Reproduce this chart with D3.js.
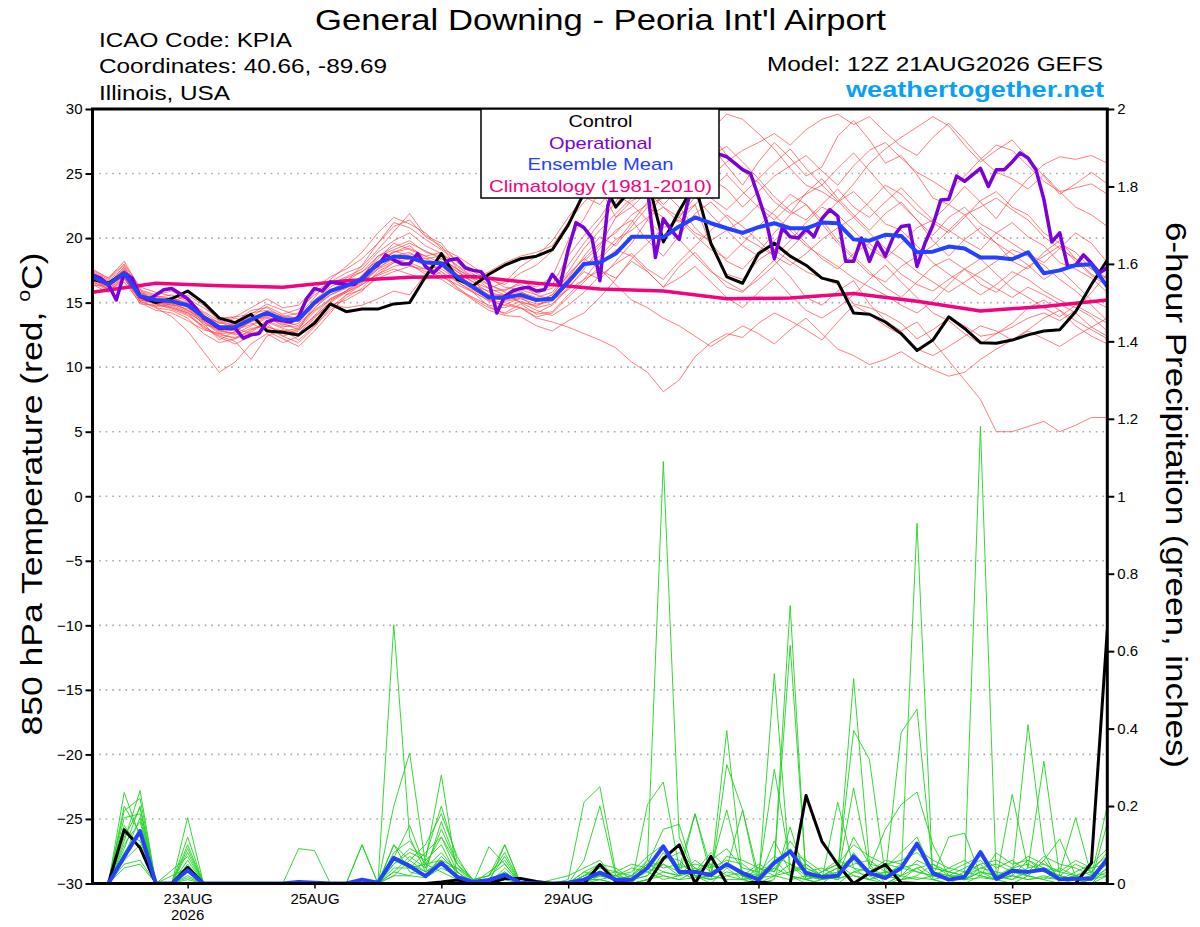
<!DOCTYPE html>
<html>
<head>
<meta charset="utf-8">
<script src="https://cdn.jsdelivr.net/npm/d3@7"></script>
<style>
  body { margin: 0; background: #fff; }
  svg { display: block; font-family: "Liberation Sans", Arial, Helvetica, sans-serif; }
</style>
</head>
<body>
<svg id="chart" width="1200" height="927"></svg>
<script>
// GEFS run 12Z 21AUG2026, 6-hourly out to 384 h (operational is 3-hourly)
const runStart = new Date(Date.UTC(2026, 7, 21, 12));
const hours6 = d3.range(0, 385, 6);
const hours3 = d3.range(0, 385, 3);
const precipHours = d3.range(6, 385, 6);   // 6-h totals ending at these hours
const climHours = d3.range(0, 385, 24);

const tempTicks = [-30, -25, -20, -15, -10, -5, 0, 5, 10, 15, 20, 25, 30];
const gridTemps = [-25, -20, -15, -10, -5, 0, 5, 10, 15, 20, 25];
const precipTicks = [0, 0.2, 0.4, 0.6, 0.8, 1, 1.2, 1.4, 1.6, 1.8, 2];
const dateTicks = [
  new Date(Date.UTC(2026, 7, 23)), new Date(Date.UTC(2026, 7, 25)),
  new Date(Date.UTC(2026, 7, 27)), new Date(Date.UTC(2026, 7, 29)),
  new Date(Date.UTC(2026, 8, 1)), new Date(Date.UTC(2026, 8, 3)),
  new Date(Date.UTC(2026, 8, 5))
];

// 850 hPa temperature, deg C
const controlTemp = [16.8, 16.5, 17.3, 15.5, 15.0, 15.3, 15.9, 15.0, 13.8, 13.45, 14.1, 12.8, 12.7, 12.5, 13.4, 14.9,
  14.3, 14.5, 14.5, 14.9, 15.0, 17.0, 18.8, 16.8, 16.3, 17.2, 17.9, 18.4, 18.6, 19.1, 21.0,
  23.5, 24.8, 22.4, 23.8, 24.6, 19.7, 22.1, 24.2, 19.6, 17.0, 16.5, 18.8, 19.6, 18.6, 17.9, 16.9, 16.6,
  14.2, 14.1, 13.5, 12.6, 11.3, 12.1, 13.9, 13.0, 11.9, 11.85, 12.1, 12.5, 12.8, 12.9, 14.3, 16.4, 18.3];

const operTemp = [17.15, 16.9, 16.4, 15.2, 17.3, 16.9, 15.5, 15.2, 15.6, 16.0, 16.1, 15.7, 15.3, 14.6, 13.8, 13.4,
  13.0, 13.0, 13.0, 12.25, 12.5, 12.6, 13.5, 13.7, 13.6, 13.5, 13.9, 15.3, 16.1, 15.9, 16.6, 16.5,
  16.4, 16.4, 16.9, 17.5, 17.9, 18.7, 18.3, 18.0, 18.0, 18.8, 17.8, 17.3, 17.9, 18.3, 18.4, 17.7,
  17.5, 17.4, 16.6, 14.2, 15.5, 15.9, 16.1, 16.2, 15.9, 16.0, 17.2, 16.4, 19.1, 21.2, 20.8, 20.0,
  16.7, 22.5, 24.5, 25.5, 24.8, 25.5, 23.8, 18.5, 21.5, 20.6, 19.9, 22.6, 24.8, 25.6, 26.0, 26.5,
  26.3, 25.8, 25.3, 25.0, 23.2, 21.3, 18.4, 20.8, 20.1, 20.0, 20.7, 20.1, 21.5, 22.2, 21.7, 18.2,
  18.2, 20.0, 18.2, 19.7, 18.6, 20.1, 20.9, 21.0, 17.8, 19.6, 21.0, 22.95, 23.0, 24.8, 24.4, 24.9,
  25.4, 24.0, 25.3, 25.3, 25.9, 26.6, 26.2, 25.3, 23.0, 19.7, 20.4, 17.8, 17.9, 18.7, 18.05, 17.3, 17.7];

const meanTemp = [17.0, 16.4, 17.3, 15.5, 15.2, 15.1, 14.8, 13.9, 13.1, 13.1, 13.7, 14.2, 13.7, 13.7, 15.0, 15.9,
  16.3, 16.8, 18.05, 18.57, 18.5, 18.1, 18.05, 17.0, 16.2, 15.4, 15.4, 15.6, 15.2, 15.3, 16.6,
  18.0, 18.1, 18.8, 20.1, 20.1, 20.06, 20.9, 21.6, 21.15, 20.76, 20.4, 20.84, 21.15, 20.76, 20.76, 21.2, 21.15,
  19.9, 19.8, 20.25, 20.17, 18.9, 18.95, 19.34, 19.2, 18.5, 18.49, 18.36, 18.9, 17.28, 17.5, 17.9, 17.97, 16.24];

const climTemp = [15.8, 16.5, 16.3, 16.2, 16.7, 16.97, 17.03, 16.5, 16.05, 15.9, 15.3, 15.35, 15.7, 15.1, 14.35, 14.7, 15.2];

const memberTemp = [
  [17.4, 16.8, 17.9, 16.0, 15.6, 15.9, 15.2, 14.1, 12.9, 13.5, 14.4, 14.6, 13.9, 14.2, 15.8, 16.6,
   17.3, 17.8, 19.1, 20.5, 21.9, 20.2, 19.6, 18.1, 17.2, 16.4, 15.9, 16.6, 16.2, 17.0, 19.8,
   21.5, 23.7, 22.4, 24.8, 26.9, 25.1, 27.8, 28.9, 27.2, 25.6, 24.1, 25.9, 27.4, 26.2, 24.8, 25.5, 27.9,
   29.1, 27.6, 25.8, 26.4, 24.9, 23.1, 22.6, 24.0, 22.8, 21.5, 23.2, 24.6, 25.7, 26.3, 26.1, 26.4, 25.8],
  [16.6, 16.1, 17.0, 15.1, 14.6, 14.4, 13.8, 12.6, 11.9, 12.2, 12.7, 13.5, 13.0, 12.6, 13.9, 14.8,
   15.2, 15.9, 17.1, 17.6, 17.2, 16.8, 17.4, 16.2, 15.3, 14.6, 14.2, 14.9, 14.1, 14.3, 15.6,
   16.8, 17.5, 16.9, 18.2, 17.4, 16.2, 17.8, 18.9, 17.5, 16.2, 15.8, 17.1, 18.3, 17.0, 15.4, 14.8, 15.9,
   16.7, 14.9, 13.6, 12.8, 13.5, 12.0, 10.5, 9.0, 7.5, 5.0, 5.0, 5.4, 5.8, 5.0, 5.5, 6.1, 6.1],
  [16.9, 16.0, 16.8, 15.3, 14.9, 14.5, 14.0, 13.2, 12.3, 11.8, 12.4, 13.1, 12.8, 13.0, 14.3, 15.2,
   15.8, 16.5, 17.6, 18.2, 17.9, 17.4, 17.0, 16.4, 15.8, 14.7, 14.1, 14.6, 13.8, 13.5, 13.1,
   12.6, 12.1, 11.5, 10.4, 9.6, 8.1, 9.0, 10.8, 11.9, 12.6, 12.3, 13.4, 14.2, 13.6, 12.9, 12.1, 13.5,
   14.8, 14.1, 13.2, 12.5, 11.4, 10.9, 11.6, 12.4, 13.2, 12.8, 12.1, 12.9, 13.8, 14.4, 13.6, 12.9, 12.2],
  [17.2, 16.5, 17.6, 15.8, 15.4, 15.6, 15.1, 14.3, 13.6, 13.9, 14.6, 15.3, 14.6, 14.8, 16.1, 17.0,
   17.6, 18.4, 19.6, 21.2, 20.8, 19.9, 19.1, 18.3, 17.4, 16.8, 16.4, 17.3, 17.9, 19.0, 20.9,
   23.6, 25.8, 27.4, 29.1, 29.8, 28.6, 27.9, 29.3, 28.1, 26.4, 25.2, 24.3, 22.8, 21.9, 23.5, 24.6, 23.1,
   21.8, 20.6, 21.9, 22.8, 21.4, 19.8, 18.6, 19.9, 20.8, 19.6, 18.2, 17.6, 18.9, 19.8, 18.4, 17.2, 16.5],
  [16.8, 16.3, 17.1, 15.4, 14.9, 15.0, 15.6, 14.8, 13.6, 13.2, 13.8, 12.9, 12.6, 12.4, 13.6, 14.9,
   14.6, 14.8, 15.3, 15.9, 15.6, 17.2, 18.4, 17.6, 16.8, 17.4, 18.1, 18.6, 18.9, 19.4, 21.2,
   22.8, 23.9, 21.6, 22.9, 23.4, 20.1, 21.8, 22.6, 19.4, 17.2, 16.8, 18.3, 19.1, 18.2, 17.4, 16.9, 16.4,
   14.9, 14.6, 14.1, 13.4, 12.2, 12.9, 13.8, 13.2, 12.4, 12.6, 13.1, 13.8, 14.2, 13.6, 14.4, 15.8, 17.2],
  [17.1, 16.6, 17.5, 15.7, 15.3, 15.2, 14.6, 13.5, 12.8, 12.6, 13.2, 13.8, 13.3, 13.6, 15.2, 16.2,
   16.9, 17.4, 18.6, 19.3, 19.8, 18.9, 18.6, 17.4, 16.6, 15.8, 15.5, 15.9, 15.1, 15.6, 17.2,
   18.4, 19.6, 20.4, 21.8, 22.6, 23.1, 24.2, 25.4, 24.8, 25.9, 26.8, 27.4, 28.1, 27.2, 28.4, 29.2, 29.6,
   28.8, 29.4, 28.2, 27.1, 26.4, 27.8, 28.9, 27.6, 26.2, 25.1, 24.6, 23.8, 24.9, 23.6, 22.4, 21.8, 20.9],
  [16.7, 16.2, 17.4, 15.2, 15.0, 14.8, 14.3, 13.4, 12.1, 12.8, 13.5, 14.0, 13.6, 13.2, 14.6, 15.6,
   16.2, 17.1, 18.4, 19.6, 19.1, 18.6, 18.9, 17.8, 16.9, 15.2, 15.0, 14.6, 14.2, 14.8, 16.1,
   17.6, 19.2, 20.6, 21.4, 19.8, 18.6, 20.2, 21.9, 22.8, 21.6, 20.1, 19.4, 18.6, 19.8, 21.2, 22.4, 21.8,
   20.6, 19.2, 18.4, 19.6, 20.8, 21.4, 22.6, 21.8, 20.4, 19.6, 18.8, 17.9, 16.8, 17.6, 16.4, 15.2, 14.6],
  [17.6, 16.9, 18.2, 16.1, 14.6, 13.9, 12.8, 11.2, 9.6, 10.4, 11.8, 12.6, 11.9, 12.4, 13.8, 15.1,
   15.9, 16.8, 17.9, 18.9, 19.4, 18.4, 17.9, 16.6, 15.9, 15.1, 14.8, 15.4, 14.6, 14.9, 16.2,
   17.4, 16.8, 18.2, 19.6, 21.4, 23.6, 22.4, 20.8, 19.6, 18.2, 17.6, 18.9, 20.4, 21.8, 22.6, 21.4, 19.8,
   18.6, 17.4, 16.2, 15.4, 16.6, 17.8, 18.4, 17.6, 16.4, 15.8, 16.9, 17.8, 18.6, 19.4, 18.2, 17.1, 16.3],
  [16.4, 15.8, 16.9, 14.9, 14.8, 14.6, 14.1, 13.0, 12.4, 12.0, 10.6, 12.4, 12.9, 12.1, 13.2, 14.4,
   15.4, 16.1, 17.4, 18.1, 18.4, 17.9, 17.2, 16.1, 15.2, 14.4, 14.0, 13.9, 13.2, 12.8, 13.6,
   14.2, 15.4, 16.8, 18.4, 19.6, 20.8, 21.4, 20.2, 19.1, 18.4, 19.6, 20.9, 22.1, 23.4, 22.6, 21.1, 19.6,
   18.4, 17.2, 16.6, 17.8, 18.6, 19.4, 20.6, 21.8, 22.4, 23.1, 22.2, 21.4, 20.1, 19.2, 20.4, 19.6, 18.1],
  [17.3, 16.7, 17.7, 15.9, 15.5, 15.3, 15.0, 14.2, 13.4, 13.3, 13.9, 14.7, 14.1, 14.5, 15.6, 16.4,
   17.0, 17.6, 18.9, 19.8, 20.4, 19.4, 18.8, 17.9, 17.0, 16.1, 16.6, 17.8, 18.6, 19.8, 21.6,
   23.2, 22.6, 24.1, 26.3, 27.6, 26.4, 25.2, 26.8, 28.4, 29.6, 29.2, 28.1, 26.9, 25.4, 24.1, 23.6, 22.8,
   24.2, 25.8, 26.9, 27.8, 28.6, 29.4, 28.7, 27.2, 25.9, 26.8, 27.6, 26.2, 24.8, 23.4, 24.2, 25.1, 24.2],
  [16.5, 16.0, 16.6, 15.0, 14.4, 14.2, 13.6, 12.9, 12.6, 12.2, 12.9, 13.4, 12.4, 11.9, 13.1, 14.6,
   15.6, 16.4, 17.2, 17.8, 18.1, 17.6, 17.8, 16.9, 16.1, 15.6, 15.1, 15.3, 14.9, 15.1, 16.4,
   17.9, 18.6, 19.9, 20.6, 21.6, 22.4, 21.6, 20.4, 19.8, 20.6, 21.4, 22.6, 21.8, 20.6, 19.4, 18.6, 17.8,
   16.9, 16.2, 15.6, 14.8, 14.2, 15.1, 16.4, 17.6, 18.4, 17.2, 16.1, 15.4, 14.6, 13.9, 14.8, 14.1, 13.4],
  [17.0, 16.5, 17.2, 15.6, 15.1, 14.9, 14.4, 13.8, 12.9, 12.5, 13.0, 13.2, 12.6, 12.9, 14.9, 15.8,
   16.6, 17.9, 19.6, 20.9, 21.4, 20.1, 19.4, 17.6, 16.4, 15.6, 15.6, 16.2, 15.8, 16.1, 17.9,
   19.6, 21.2, 22.8, 24.6, 23.9, 22.6, 23.8, 25.1, 26.4, 27.1, 25.9, 24.6, 25.8, 26.9, 25.4, 24.1, 22.9,
   21.6, 22.8, 24.1, 23.4, 22.1, 21.2, 20.4, 21.6, 22.9, 23.6, 22.4, 21.8, 20.4, 19.6, 18.9, 17.6, 16.9],
  [16.3, 16.4, 17.0, 15.3, 15.2, 15.4, 14.9, 14.0, 13.4, 13.8, 13.4, 12.8, 12.2, 11.6, 12.8, 14.2,
   15.6, 16.0, 16.9, 17.4, 17.8, 17.6, 18.2, 17.4, 16.6, 16.1, 15.6, 15.0, 14.4, 14.0, 14.8,
   15.8, 17.1, 18.0, 18.8, 17.6, 16.8, 18.2, 19.4, 20.6, 21.8, 20.9, 19.8, 18.6, 17.9, 18.8, 19.9, 20.8,
   21.6, 20.4, 19.2, 18.4, 17.4, 16.6, 15.8, 16.6, 17.4, 18.2, 19.1, 18.6, 17.9, 16.8, 15.9, 14.8, 13.6],
  [17.5, 16.9, 18.0, 16.2, 15.8, 15.5, 15.3, 14.6, 13.8, 13.9, 14.1, 14.9, 14.4, 14.0, 15.4, 16.8,
   17.8, 18.9, 20.4, 21.6, 21.1, 20.4, 19.2, 18.6, 17.8, 16.9, 16.2, 16.0, 15.6, 16.4, 18.6,
   20.2, 21.6, 23.4, 22.6, 21.4, 20.2, 21.6, 23.2, 24.6, 23.8, 22.4, 23.6, 24.8, 25.6, 26.4, 25.2, 24.1,
   25.6, 26.8, 27.4, 26.2, 25.1, 24.4, 23.6, 24.8, 26.1, 27.2, 26.8, 25.6, 24.4, 23.6, 23.9, 24.2, 23.4],
  [16.9, 16.2, 17.1, 15.1, 14.7, 14.9, 14.5, 13.3, 13.0, 13.4, 14.2, 14.4, 14.0, 13.8, 15.2, 16.0,
   16.4, 16.6, 17.7, 18.4, 18.0, 17.2, 16.8, 16.0, 15.4, 14.8, 14.6, 15.1, 14.7, 15.4, 16.9,
   18.6, 20.1, 19.4, 20.9, 22.4, 21.6, 19.9, 18.6, 17.4, 16.6, 15.9, 16.8, 17.9, 19.2, 20.4, 21.6, 22.8,
   23.6, 22.4, 21.1, 20.6, 19.4, 18.1, 17.2, 16.4, 15.6, 16.4, 17.4, 16.8, 15.9, 15.2, 14.6, 13.9, 12.8],
  [17.0, 16.6, 17.5, 15.5, 15.0, 15.4, 14.7, 13.6, 13.2, 12.9, 13.6, 14.1, 13.9, 13.5, 14.8, 15.6,
   16.1, 16.9, 18.1, 19.0, 18.6, 18.4, 18.6, 17.2, 16.3, 15.9, 16.0, 16.4, 15.6, 15.2, 16.0,
   16.8, 18.4, 19.6, 21.2, 22.8, 24.1, 25.6, 24.4, 23.1, 22.2, 23.4, 24.6, 23.2, 22.1, 21.4, 22.6, 23.8,
   22.4, 21.6, 22.8, 23.9, 22.6, 21.4, 20.6, 19.8, 19.1, 20.4, 21.2, 20.1, 19.4, 18.1, 17.6, 16.9, 15.8],
  [16.6, 16.1, 16.9, 15.2, 14.9, 14.7, 14.2, 13.1, 12.5, 12.3, 12.8, 13.6, 13.1, 13.4, 14.4, 15.3,
   15.9, 16.6, 17.6, 18.6, 18.9, 18.1, 17.6, 16.8, 16.0, 15.3, 15.2, 15.8, 15.4, 15.8, 17.4,
   19.2, 20.6, 21.9, 23.1, 24.6, 25.9, 24.4, 23.2, 21.8, 20.6, 19.4, 18.6, 19.8, 20.9, 19.6, 18.4, 17.6,
   18.8, 19.6, 18.4, 17.2, 16.4, 15.9, 16.8, 17.6, 16.9, 16.1, 15.4, 16.2, 15.6, 14.9, 14.2, 13.1, 12.4],
  [17.2, 16.4, 17.8, 15.6, 15.2, 14.8, 14.8, 13.9, 13.5, 13.0, 12.6, 13.0, 12.4, 12.8, 14.0, 15.3,
   15.9, 17.0, 18.6, 19.1, 19.6, 19.0, 18.4, 17.6, 16.9, 16.4, 15.8, 15.0, 14.8, 15.2, 16.8,
   18.2, 19.4, 21.6, 22.4, 23.6, 22.4, 21.2, 22.6, 23.8, 24.9, 23.6, 22.4, 21.4, 22.6, 23.4, 24.1, 25.4,
   26.6, 25.2, 23.8, 22.6, 21.4, 20.2, 21.6, 22.4, 21.1, 20.4, 19.6, 18.8, 18.1, 19.2, 18.4, 17.6, 16.8],
  [16.8, 16.6, 17.2, 15.3, 15.5, 15.1, 14.4, 13.6, 12.7, 12.9, 13.3, 13.9, 13.4, 12.9, 13.9, 15.0,
   15.8, 16.4, 17.2, 18.1, 18.8, 18.2, 17.4, 16.6, 15.8, 15.2, 14.8, 14.6, 13.9, 14.2, 15.4,
   16.6, 17.8, 19.1, 18.6, 17.4, 16.2, 16.9, 17.8, 16.6, 15.4, 14.6, 15.8, 16.9, 15.6, 14.4, 13.8, 14.6,
   15.6, 16.8, 17.9, 16.6, 15.4, 14.2, 13.6, 12.6, 11.8, 12.6, 13.4, 14.6, 15.2, 14.4, 13.2, 12.4, 11.8],
  [17.1, 16.5, 17.4, 15.8, 15.1, 14.6, 14.2, 13.5, 12.6, 12.7, 13.6, 13.9, 13.2, 13.1, 14.5, 15.9,
   16.7, 17.4, 18.2, 18.9, 19.2, 18.6, 18.1, 17.1, 16.2, 15.5, 15.2, 15.4, 15.1, 15.6, 17.1,
   18.4, 17.6, 16.4, 15.2, 14.6, 13.8, 13.2, 12.4, 11.6, 12.4, 13.2, 12.6, 11.8, 12.9, 13.8, 12.6, 11.4,
   10.9, 10.2, 10.6, 11.2, 10.4, 9.8, 9.3, 9.6, 10.6, 11.4, 12.1, 12.8, 12.2, 11.6, 12.4, 13.1, 13.8]
];

// 6-hour precipitation, inches (hours 6..384)
const controlPrecip = [0, .139, .092, 0, 0, .042, 0, 0, 0, 0, 0, 0, 0, 0, 0, 0,
  0, 0, 0, 0, 0, .004, .009, 0, 0, .013, .013, .005, 0, 0, 0, .049,
  .005, 0, 0, .064, .1, 0, .07, 0, 0, .004, 0, 0, .227, .109, .049, 0,
  .027, .049, .002, 0, 0, 0, 0, 0, 0, 0, 0, 0, 0, 0, .053, .655];

const meanPrecip = [0, .069, .135, 0, 0, .034, 0, 0, 0, 0, 0, 0, .004, .002, 0, 0,
  .01, .002, .066, .045, .019, .053, .017, .004, .009, .022, .002, 0, 0, .002, .01, .028,
  .01, .01, .04, .096, .03, .03, .022, .05, .027, .01, .053, .083, .027, .017, .02, .07,
  .027, .014, .04, .103, .027, .01, .017, .081, .012, .033, .03, .036, .011, .012, .012, .063];

const memberPrecip = [
  [0,.235,.12,0,0,.05,0,0, 0,0,0,0,0,0,0,0, 0,0,.668,.12,.03,.06,.02,0, 0,.01,0,0,0,0,.02,.05,
   .01,0,.06,1.09,.12,.02,0,.04, .01,0,.02,.05,.01,0,0,.03, .02,0,.01,.04,.01,0,.02,.08, .01,0,.02,.01,0,0,.01,.04],
  [0,.188,.22,0,0,.17,0,0, 0,0,0,0,0,0,0,0, .1,0,.2,.337,.05,.03,.01,0, .01,.02,0,0,0,.01,.21,.25,
   .03,0,.01,.05,.03,.01,.02,.05, .02,0,.542,.02,0,.01,.02,.529, .05,0,.02,.93,.01,0,0,.02, .01,.02,.41,.08,0,.01,0,.02],
  [0,.12,.195,0,0,.1,0,0, 0,0,0,0,0,0,0,0, .1,0,.05,.08,.06,.28,.02,0, 0,.1,0,0,0,0,.06,.2,
   .02,0,.204,.262,.04,.18,.02,.395, .01,.02,.05,.718,.01,0,.03,.395, .32,.02,.39,.45,.03,.02,.01,.03, .01,.23,.04,.316,.02,.01,.02,.2],
  [0,.1,.16,0,0,.04,0,0, 0,0,0,0,.09,.085,0,0, 0,0,.1,.06,.1,.18,.07,0, .095,.05,0,0,0,0,0,.03,
   .01,.02,.05,.14,.153,.02,.01,.307, .19,0,.05,.615,.02,.01,.02,.247, .04,.14,.204,.236,.1,.02,.02,1.18, .01,.04,.02,.06,.115,.02,.01,.155],
  [0,.08,.14,0,.034,.07,0,0, 0,0,0,0,0,0,0,0, 0,0,.067,.15,.04,.14,.05,.01, .02,.1,0,0,0,0,.03,.02,
   .01,0,.01,.03,.02,.18,.04,.19, .02,0,.01,.146,.01,.02,.04,.06, .02,.03,.04,.05,.02,.12,.13,.02, .079,.05,.06,.04,.03,.17,.02,.05],
  [0,.06,.1,0,0,.03,0,0, 0,0,0,0,0,0,0,0, 0,0,.04,.04,.05,.12,.03,0, .01,.07,0,0,0,0,0,.02,
   .02,.01,.03,.05,.02,.03,.08,.04, .19,.02,.295,.05,.02,.01,.21,.04, .01,0,.02,.06,.04,.03,.02,.05, .01,.02,.06,.03,.02,.01,0,.04],
  [0,.15,.09,0,0,.02,0,0, 0,0,0,0,0,0,0,0, 0,0,.03,.02,.06,.1,.02,0, 0,.04,0,0,0,0,.01,.01,
   0,.01,.02,.08,.03,.02,.01,.02, .03,.01,.11,.03,.04,.02,.01,.08, .03,.02,.05,.03,.02,.01,.01,.04, .03,.02,.01,.02,.01,.02,.03,.02],
  [0,.09,.2,0,0,.015,0,0, 0,0,0,0,0,0,0,0, 0,0,.02,.06,.03,.05,.04,.01, 0,.02,0,0,0,.005,.01,.02,
   .01,0,.04,.02,.01,.03,.05,.02, .01,.04,.02,.03,.05,.02,.01,.03, .04,.02,.01,.02,.05,.02,.01,.03, .02,.01,.03,.04,.02,.01,.02,.06],
  [0,.05,.06,0,0,.06,0,0, 0,0,0,0,0,0,0,0, 0,0,.1,.03,.02,.07,.03,0, 0,.01,0,0,0,0,0,.01,
   .02,.04,.03,.01,.02,.04,.01,.03, .02,.01,.04,.02,.01,.03,.05,.02, .01,.03,.02,.01,.02,.01,.03,.02, .01,.03,.02,.01,.04,.02,.01,.03],
  [0,.2,.13,0,0,.08,0,0, 0,0,0,0,0,0,0,0, 0,0,.05,.09,.07,.2,.06,.01, .02,.05,0,0,0,0,.02,.04,
   .03,.02,.06,.04,.05,.03,.06,.09, .04,.03,.07,.05,.03,.04,.02,.12, .05,.04,.08,.12,.03,.02,.04,.06, .02,.04,.05,.03,.02,.05,.03,.08],
  [0,.17,.18,0,0,.03,0,0, 0,0,0,0,0,0,0,0, 0,0,.07,.05,.03,.16,.05,0, .01,.03,0,0,.01,.02,.04,.06,
   .01,.02,.05,.03,.02,.06,.03,.05, .03,.02,.06,.02,.01,.03,.06,.04, .03,.05,.04,.03,.02,.04,.06,.03, .02,.01,.04,.05,.03,.02,.04,.05],
  [0,.11,.24,0,0,.12,0,0, 0,0,0,0,0,0,0,0, 0,0,.03,.07,.04,.08,.03,0, .03,.06,0,0,0,0,.03,.05,
   .04,.01,.02,.07,.06,.02,.03,.05, .02,.05,.03,.09,.04,.02,.03,.05, .06,.03,.02,.04,.05,.03,.02,.04, .05,.03,.02,.06,.01,.03,.05,.09],
  [0,.04,.05,0,0,.01,0,0, 0,0,0,0,0,0,0,0, 0,0,.02,.02,.015,.04,.02,0, 0,.02,0,0,0,0,.01,.01,
   0,0,.01,.02,.01,.015,.02,.01, .01,.015,.02,.01,.02,.01,.015,.02, .01,.02,.01,.015,.01,.02,.01,.015, .01,.02,.01,.015,.01,.02,.01,.02],
  [0,.13,.11,0,0,.09,0,0, 0,0,0,0,0,0,0,0, 0,0,.08,.11,.05,.06,.04,0, 0,.03,0,0,0,0,.02,.03,
   .02,.03,.07,.1,.04,.05,.04,.06, .05,.02,.04,.08,.06,.03,.05,.1, .07,.05,.06,.08,.04,.03,.05,.07, .04,.06,.03,.07,.05,.04,.02,.06],
  [0,.07,.17,0,.02,.04,0,0, 0,0,0,0,0,0,0,0, 0,0,.06,.04,.08,.12,.05,.01, .02,.08,0,0,0,0,.01,.02,
   .03,.05,.04,.06,.08,.04,.02,.07, .06,.04,.03,.11,.05,.02,.04,.07, .03,.06,.05,.09,.06,.04,.03,.05, .06,.04,.07,.05,.03,.06,.04,.07]
];

const font = '"Liberation Sans", Arial, Helvetica, sans-serif';
const colors = {
  member: '#ff4a4a', precip: '#1fd31f', control: '#000000',
  oper: '#7c00d8', mean: '#2341ff', clim: '#f0047f', site: '#0aa0f5'
};

const svg = d3.select('#chart');
const plot = { left: 92.5, right: 1107.3, top: 109, bottom: 883.5 };
const at = h => new Date(+runStart + h * 3600e3);

const x = d3.scaleUtc().domain([runStart, at(384)]).range([plot.left, plot.right]);
const yTemp = d3.scaleLinear().domain([-30, 30]).range([plot.bottom, plot.top]);
const yPrecip = d3.scaleLinear().domain([0, 2]).range([plot.bottom, plot.top]);

svg.append('rect').attr('width', 1200).attr('height', 927).attr('fill', '#fff');

svg.append('clipPath').attr('id', 'plotclip').append('rect')
  .attr('x', plot.left).attr('y', plot.top)
  .attr('width', plot.right - plot.left).attr('height', plot.bottom - plot.top);

// dotted grid at the temperature ticks
svg.append('g').selectAll('line').data(gridTemps).join('line')
  .attr('x1', plot.left).attr('x2', plot.right)
  .attr('y1', d => yTemp(d)).attr('y2', d => yTemp(d))
  .attr('stroke', '#a8a8a8').attr('stroke-width', 1.6)
  .attr('stroke-dasharray', '1.6,5');

const tempLine = hrs => d3.line().x((d, i) => x(at(hrs[i]))).y(d => yTemp(d));
const precipLine = d3.line().x((d, i) => x(at(precipHours[i]))).y(d => yPrecip(d));

const series = svg.append('g').attr('clip-path', 'url(#plotclip)').attr('fill', 'none')
  .attr('stroke-linejoin', 'round');

series.selectAll('.member').data(memberTemp).join('path').attr('class', 'member')
  .attr('d', tempLine(hours6)).attr('stroke', colors.member)
  .attr('stroke-width', 0.9).attr('stroke-opacity', 0.8);

series.selectAll('.pmember').data(memberPrecip).join('path').attr('class', 'pmember')
  .attr('d', precipLine).attr('stroke', colors.precip).attr('stroke-width', 0.9);

series.append('path').datum(climTemp).attr('d', tempLine(climHours))
  .attr('stroke', colors.clim).attr('stroke-width', 3.5);
series.append('path').datum(controlTemp).attr('d', tempLine(hours6))
  .attr('stroke', colors.control).attr('stroke-width', 3);
series.append('path').datum(operTemp).attr('d', tempLine(hours3))
  .attr('stroke', colors.oper).attr('stroke-width', 3.5);
series.append('path').datum(meanTemp).attr('d', tempLine(hours6))
  .attr('stroke', colors.mean).attr('stroke-width', 4);
series.append('path').datum(controlPrecip).attr('d', precipLine)
  .attr('stroke', colors.control).attr('stroke-width', 3);
series.append('path').datum(meanPrecip).attr('d', precipLine)
  .attr('stroke', colors.mean).attr('stroke-width', 4);

// axes
const styleAxis = g => {
  g.select('.domain').remove();
  g.attr('font-family', font).attr('font-size', 15);
  g.selectAll('.tick line').attr('stroke-width', 2);
  g.selectAll('.tick text').attr('fill', '#000');
};

svg.append('g').attr('transform', `translate(${plot.left},0)`)
  .call(d3.axisLeft(yTemp).tickValues(tempTicks).tickSize(7).tickPadding(3))
  .call(styleAxis);

svg.append('g').attr('transform', `translate(${plot.right},0)`)
  .call(d3.axisRight(yPrecip).tickValues(precipTicks).tickFormat(d => String(d))
    .tickSize(7).tickPadding(3))
  .call(styleAxis);

const fmtDate = d3.utcFormat('%-d%b');
svg.append('g').attr('transform', `translate(0,${plot.bottom})`)
  .call(d3.axisBottom(x).tickValues(dateTicks).tickFormat(d => fmtDate(d).toUpperCase())
    .tickSize(5).tickPadding(5))
  .call(styleAxis)
  .call(g => g.selectAll('.tick line').attr('stroke-width', 1.5));

svg.append('text').attr('x', x(dateTicks[0])).attr('y', 920)
  .attr('text-anchor', 'middle').attr('font-family', font).attr('font-size', 15)
  .text('2026');

// frame
svg.append('rect').attr('x', plot.left).attr('y', plot.top)
  .attr('width', plot.right - plot.left).attr('height', plot.bottom - plot.top)
  .attr('fill', 'none').attr('stroke', '#000').attr('stroke-width', 3);

// legend
const legend = svg.append('g').attr('font-family', font).attr('font-size', 17)
  .attr('text-anchor', 'middle');
legend.append('rect').attr('x', 481).attr('y', plot.top).attr('width', 238).attr('height', 89)
  .attr('fill', '#fff').attr('stroke', '#000').attr('stroke-width', 1.5);
const legendItems = [
  { label: 'Control', color: colors.control, len: 64, y: 127 },
  { label: 'Operational', color: colors.oper, len: 103, y: 148.5 },
  { label: 'Ensemble Mean', color: colors.mean, len: 146, y: 170 },
  { label: 'Climatology (1981-2010)', color: colors.clim, len: 223, y: 191.5 }
];
legend.selectAll('text').data(legendItems).join('text')
  .attr('x', 600.5).attr('y', d => d.y).attr('fill', d => d.color)
  .attr('textLength', d => d.len).attr('lengthAdjust', 'spacingAndGlyphs')
  .text(d => d.label);

// headings
const addText = (txt, opts) => {
  const t = svg.append('text').attr('font-family', font)
    .attr('x', opts.x).attr('y', opts.y).attr('font-size', opts.size)
    .attr('text-anchor', opts.anchor || 'start').attr('fill', opts.fill || '#000')
    .text(txt);
  if (opts.len) t.attr('textLength', opts.len).attr('lengthAdjust', 'spacingAndGlyphs');
  if (opts.bold) t.attr('font-weight', 'bold');
  return t;
};

addText("General Downing - Peoria Int'l Airport", { x: 600.5, y: 29.5, size: 30, anchor: 'middle', len: 571 });
addText('ICAO Code: KPIA', { x: 99, y: 46.7, size: 21, len: 193 });
addText('Coordinates: 40.66, -89.69', { x: 99, y: 73.3, size: 21, len: 288 });
addText('Illinois, USA', { x: 99, y: 100, size: 21, len: 131 });
addText('Model: 12Z 21AUG2026 GEFS', { x: 1103, y: 70.7, size: 20, anchor: 'end', len: 336 });
addText('weathertogether.net', { x: 1104, y: 96.7, size: 22, anchor: 'end', len: 258, bold: true, fill: colors.site });

// axis titles
const leftTitle = svg.append('text').attr('font-family', font).attr('font-size', 30)
  .attr('text-anchor', 'middle').attr('transform', 'translate(42,494) rotate(-90)')
  .attr('textLength', 483).attr('lengthAdjust', 'spacingAndGlyphs');
leftTitle.append('tspan').text('850 hPa Temperature (red, ');
leftTitle.append('tspan').attr('font-size', 18).attr('dy', -12).text('o');
leftTitle.append('tspan').attr('dy', 12).text('C)');

svg.append('text').attr('font-family', font).attr('font-size', 30)
  .attr('text-anchor', 'middle').attr('transform', 'translate(1166,495) rotate(90)')
  .attr('textLength', 546).attr('lengthAdjust', 'spacingAndGlyphs')
  .text('6-hour Precipitation (green, inches)');
</script>
</body>
</html>
